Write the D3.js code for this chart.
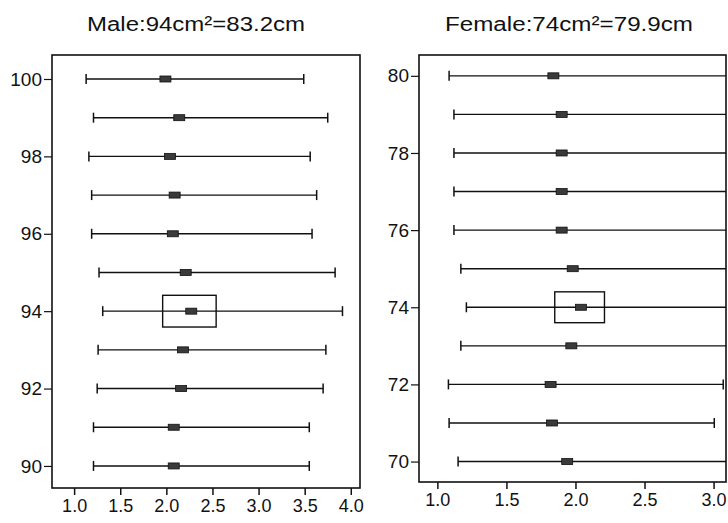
<!DOCTYPE html>
<html>
<head>
<meta charset="utf-8">
<script src="https://cdn.jsdelivr.net/npm/d3@7"></script>
<style>
  html, body { margin: 0; padding: 0; background: #fff; }
  svg { display: block; }
  text { font-family: "Liberation Sans", Arial, sans-serif; fill: #111; }
</style>
</head>
<body>
<svg id="chart" width="728" height="523"></svg>
<script>
// ---- Data ----
const maleWC    = [90, 91, 92, 93, 94, 95, 96, 97, 98, 99, 100];
const maleLow   = [1.21, 1.21, 1.25, 1.26, 1.31, 1.27, 1.19, 1.19, 1.16, 1.21, 1.13];
const maleMid   = [2.08, 2.08, 2.16, 2.18, 2.27, 2.21, 2.07, 2.09, 2.04, 2.14, 1.99];
const maleHigh  = [3.55, 3.55, 3.70, 3.73, 3.91, 3.83, 3.58, 3.63, 3.56, 3.75, 3.49];
const maleBox   = [94, 1.96, 2.54, 0.41];   // [row, from, to, half-height]

const femaleWC   = [70, 71, 72, 73, 74, 75, 76, 77, 78, 79, 80];
const femaleLow  = [1.15, 1.085, 1.08, 1.17, 1.21, 1.17, 1.12, 1.12, 1.12, 1.12, 1.085];
const femaleMid  = [1.94, 1.83, 1.82, 1.97, 2.04, 1.98, 1.90, 1.90, 1.90, 1.90, 1.84];
const femaleHigh = [3.40, 3.005, 3.07, 3.40, 3.40, 3.40, 3.40, 3.40, 3.40, 3.40, 3.40];
const femaleBox  = [74, 1.85, 2.21, 0.40];

const maleXTicks   = [1.0, 1.5, 2.0, 2.5, 3.0, 3.5, 4.0];
const maleYTicks   = [90, 92, 94, 96, 98, 100];
const femaleXTicks = [1.0, 1.5, 2.0, 2.5, 3.0];
const femaleYTicks = [70, 72, 74, 76, 78, 80];

const titles = ["Male:94cm\u00B2=83.2cm", "Female:74cm\u00B2=79.9cm"];

// ---- Drawing ----
const svg = d3.select("#chart");

function panel(cfg) {
  const { id, wc, low, mid, high, box, xTicks, yTicks, xDom, yDom, left, right, top, bottom, title, titleX, titleW } = cfg;
  const x = d3.scaleLinear().domain(xDom).range([left, right]);
  const y = d3.scaleLinear().domain(yDom).range([bottom, top]);
  const g = svg.append("g");

  g.append("clipPath").attr("id", id)
    .append("rect").attr("x", left).attr("y", top)
    .attr("width", right - left).attr("height", bottom - top);

  const rows = wc.map((w, i) => ({ w, lo: low[i], m: mid[i], hi: high[i] }));
  const marks = g.append("g").attr("clip-path", `url(#${id})`);

  marks.selectAll("line.wh").data(rows).enter().append("line")
    .attr("x1", d => x(d.lo)).attr("x2", d => x(d.hi))
    .attr("y1", d => y(d.w)).attr("y2", d => y(d.w))
    .attr("stroke", "#111").attr("stroke-width", 1.4);
  marks.selectAll("line.capl").data(rows).enter().append("line")
    .attr("x1", d => x(d.lo)).attr("x2", d => x(d.lo))
    .attr("y1", d => y(d.w) - 5).attr("y2", d => y(d.w) + 5)
    .attr("stroke", "#111").attr("stroke-width", 1.5);
  marks.selectAll("line.caph").data(rows).enter().append("line")
    .attr("x1", d => x(d.hi)).attr("x2", d => x(d.hi))
    .attr("y1", d => y(d.w) - 5).attr("y2", d => y(d.w) + 5)
    .attr("stroke", "#111").attr("stroke-width", 1.5);
  marks.selectAll("rect.pt").data(rows).enter().append("rect")
    .attr("x", d => x(d.m) - 5.5).attr("y", d => y(d.w) - 3)
    .attr("width", 11).attr("height", 6)
    .attr("fill", "#3a3a3a").attr("stroke", "#111").attr("stroke-width", 0.8);

  // highlighted optimal cut-off box
  marks.append("rect")
    .attr("x", x(box[1])).attr("width", x(box[2]) - x(box[1]))
    .attr("y", y(box[0] + box[3])).attr("height", y(box[0] - box[3]) - y(box[0] + box[3]))
    .attr("fill", "none").attr("stroke", "#111").attr("stroke-width", 1.4);

  // frame
  g.append("rect").attr("x", left).attr("y", top)
    .attr("width", right - left).attr("height", bottom - top)
    .attr("fill", "none").attr("stroke", "#111").attr("stroke-width", 1.6);

  const ya = g.append("g").attr("transform", `translate(${left},0)`)
    .call(d3.axisLeft(y).tickValues(yTicks).tickSize(8).tickPadding(2).tickFormat(d3.format("d")));
  ya.select(".domain").remove();
  ya.selectAll("line").attr("stroke", "#111").attr("stroke-width", 1.2);
  ya.selectAll("text").style("font-size", "19px").attr("fill", "#111");

  const xa = g.append("g").attr("transform", `translate(0,${bottom})`)
    .call(d3.axisBottom(x).tickValues(xTicks).tickSize(7).tickPadding(4).tickFormat(d3.format(".1f")));
  xa.select(".domain").remove();
  xa.selectAll("line").attr("stroke", "#111").attr("stroke-width", 1.5);
  xa.selectAll("text").style("font-size", "18px").attr("fill", "#111");

  g.append("text").attr("x", titleX - titleW / 2).attr("y", 31)
    .attr("textLength", titleW).attr("lengthAdjust", "spacingAndGlyphs")
    .style("font-size", "20px").text(title);
}

panel({ id: "clipM", wc: maleWC, low: maleLow, mid: maleMid, high: maleHigh, box: maleBox,
  xTicks: maleXTicks, yTicks: maleYTicks, xDom: [0.76, 4.1], yDom: [89.43, 100.62],
  left: 52, right: 360, top: 55, bottom: 488, title: titles[0], titleX: 196, titleW: 218 });

panel({ id: "clipF", wc: femaleWC, low: femaleLow, mid: femaleMid, high: femaleHigh, box: femaleBox,
  xTicks: femaleXTicks, yTicks: femaleYTicks, xDom: [0.867, 3.09], yDom: [69.47, 80.54],
  left: 419, right: 726, top: 55, bottom: 482, title: titles[1], titleX: 569, titleW: 248 });
</script>
</body>
</html>
